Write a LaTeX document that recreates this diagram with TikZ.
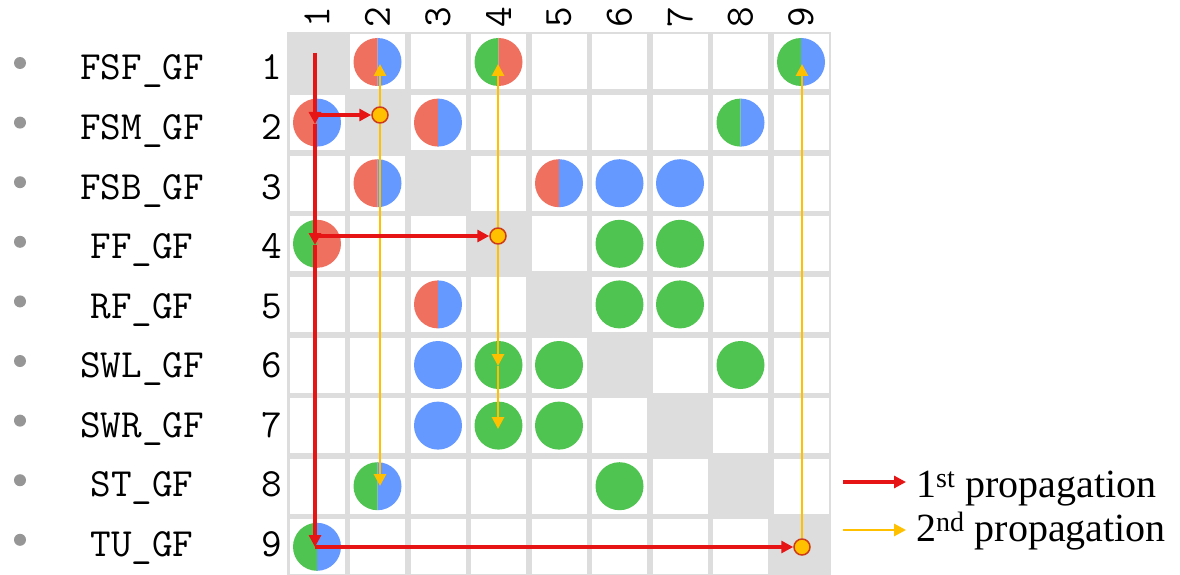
\documentclass[tikz,border=0pt]{standalone}
\usepackage{fontspec}
\setmainfont{Liberation Serif}
\usetikzlibrary{arrows.meta}
\definecolor{gridgray}{RGB}{221,221,221}
\definecolor{cred}{RGB}{240,112,96}
\definecolor{cblue}{RGB}{102,153,255}
\definecolor{cgreen}{RGB}{80,196,80}
\definecolor{arred}{RGB}{230,20,20}
\definecolor{aryel}{RGB}{255,192,0}
\definecolor{dotedge}{RGB}{205,60,20}
\definecolor{bulgray}{RGB}{150,150,150}
\tikzset{
  redarr/.style={draw=arred, line width=3.2pt, -{Triangle[length=12pt,width=12pt]}},
  yelarr/.style={draw=aryel, line width=2.8pt, -{Triangle[length=12pt,width=12pt]}},
  pdot/.style={circle, fill=aryel, draw=dotedge, line width=1.5pt, minimum size=16pt, inner sep=0pt},
  rowlab/.style={font=\ttfamily\fontsize{40}{40}\selectfont, anchor=base, inner sep=0pt},
  collab/.style={font=\ttfamily\fontsize{40}{40}\selectfont, rotate=90, inner sep=0pt},
  bulletdot/.style={circle, fill=bulgray, minimum size=12pt, inner sep=0pt},
  legtext/.style={font=\fontsize{40}{40}\selectfont, anchor=base west, inner sep=0pt},
}
\newcommand\hpie[4]{%
  \fill[#3] ({317+60.5*(#1-1)},{62+60.6*(#2-1)}) ++(0,-24) arc[start angle=90,end angle=270,radius=24pt] -- cycle;
  \fill[#4] ({317+60.5*(#1-1)},{62+60.6*(#2-1)}) ++(0,-24) arc[start angle=90,end angle=-90,radius=24pt] -- cycle;
}
\newcommand\fpie[3]{%
  \fill[#3] ({317+60.5*(#1-1)},{62+60.6*(#2-1)}) circle (24pt);
}
\begin{document}
\begin{tikzpicture}[x=1pt,y=-1pt]
\useasboundingbox (0,0) rectangle (1180,575);
\clip (0,0) rectangle (1180,575);
\fill[white] (0,0) rectangle (1180,575);
% grid
\fill[gridgray] (286.75,31.7) rectangle (831.25,590);
\foreach \c in {1,...,9}{
  \foreach \r in {1,...,9}{
    \ifnum\c=\r\relax\else
      \fill[white] ({317+60.5*(\c-1)-27.5},{62+60.6*(\r-1)-27.5}) rectangle ++(55,55);
    \fi
  }
}
% column labels
\foreach \c in {1,...,9}{
  \node[collab] (col\c) at ({317+60.5*(\c-1)},17) {\c};
}
% row labels
\foreach \r/\t in {1/FSF\_GF,2/FSM\_GF,3/FSB\_GF,4/FF\_GF,5/RF\_GF,6/SWL\_GF,7/SWR\_GF,8/ST\_GF,9/TU\_GF}{
  \node[rowlab] (lab\r) at (142,{80+59.5*(\r-1)}) {\t};
  \node[rowlab] (num\r) at (272,{80+59.5*(\r-1)}) {\r};
  \node[bulletdot] (bul\r) at (20,{63+59.6*(\r-1)}) {};
}
% pies
\hpie{2}{1}{cred}{cblue}
\hpie{4}{1}{cgreen}{cred}
\hpie{9}{1}{cgreen}{cblue}
\hpie{1}{2}{cred}{cblue}
\hpie{3}{2}{cred}{cblue}
\hpie{8}{2}{cgreen}{cblue}
\hpie{2}{3}{cred}{cblue}
\hpie{5}{3}{cred}{cblue}
\fpie{6}{3}{cblue}
\fpie{7}{3}{cblue}
\hpie{1}{4}{cgreen}{cred}
\fpie{6}{4}{cgreen}
\fpie{7}{4}{cgreen}
\hpie{3}{5}{cred}{cblue}
\fpie{6}{5}{cgreen}
\fpie{7}{5}{cgreen}
\fpie{3}{6}{cblue}
\fpie{4}{6}{cgreen}
\fpie{5}{6}{cgreen}
\fpie{8}{6}{cgreen}
\fpie{3}{7}{cblue}
\fpie{4}{7}{cgreen}
\fpie{5}{7}{cgreen}
\hpie{2}{8}{cgreen}{cblue}
\fpie{6}{8}{cgreen}
\hpie{1}{9}{cgreen}{cblue}
% propagation points
\node[pdot] (d2) at (380,115) {};
\node[pdot] (d4) at (498,236) {};
\node[pdot] (d9) at (802,547) {};
\coordinate (rs) at (315,53);
\coordinate (j2) at (315,115);
\coordinate (t2) at (315,124);
\coordinate (j4) at (315,236);
\coordinate (t4) at (315,245);
\coordinate (j9) at (315,547);
\coordinate (y2u) at (380,64);
\coordinate (y2d) at (380,486);
\coordinate (y4u) at (498,64);
\coordinate (y4m) at (498,366);
\coordinate (y4d) at (498,429);
\coordinate (y9u) at (802,64);
% second propagation
\draw[yelarr] (d2) -- (y2u);
\draw[yelarr] (d2) -- (y2d);
\draw[yelarr] (d4) -- (y4u);
\draw[yelarr] (d4) -- (y4m);
\draw[yelarr] (y4m) -- (y4d);
\draw[yelarr] (d9) -- (y9u);
% first propagation
\draw[redarr] (rs) -- (t2);
\draw[redarr] (t2) -- (t4);
\draw[redarr] (t4) -- (j9);
\draw[redarr] (j2) -- (d2);
\draw[redarr] (j4) -- (d4);
\draw[redarr] (j9) -- (d9);
% legend
\coordinate (lr1) at (843,482);
\coordinate (lr2) at (906,482);
\coordinate (ly1) at (843,530);
\coordinate (ly2) at (906,530);
\draw[redarr] (lr1) -- (lr2);
\draw[yelarr] (ly1) -- (ly2);
\node[legtext] (leg1) at (916,497) {1\textsuperscript{st} propagation};
\node[legtext] (leg2) at (916,541) {2\textsuperscript{nd} propagation};
\end{tikzpicture}
\end{document}
